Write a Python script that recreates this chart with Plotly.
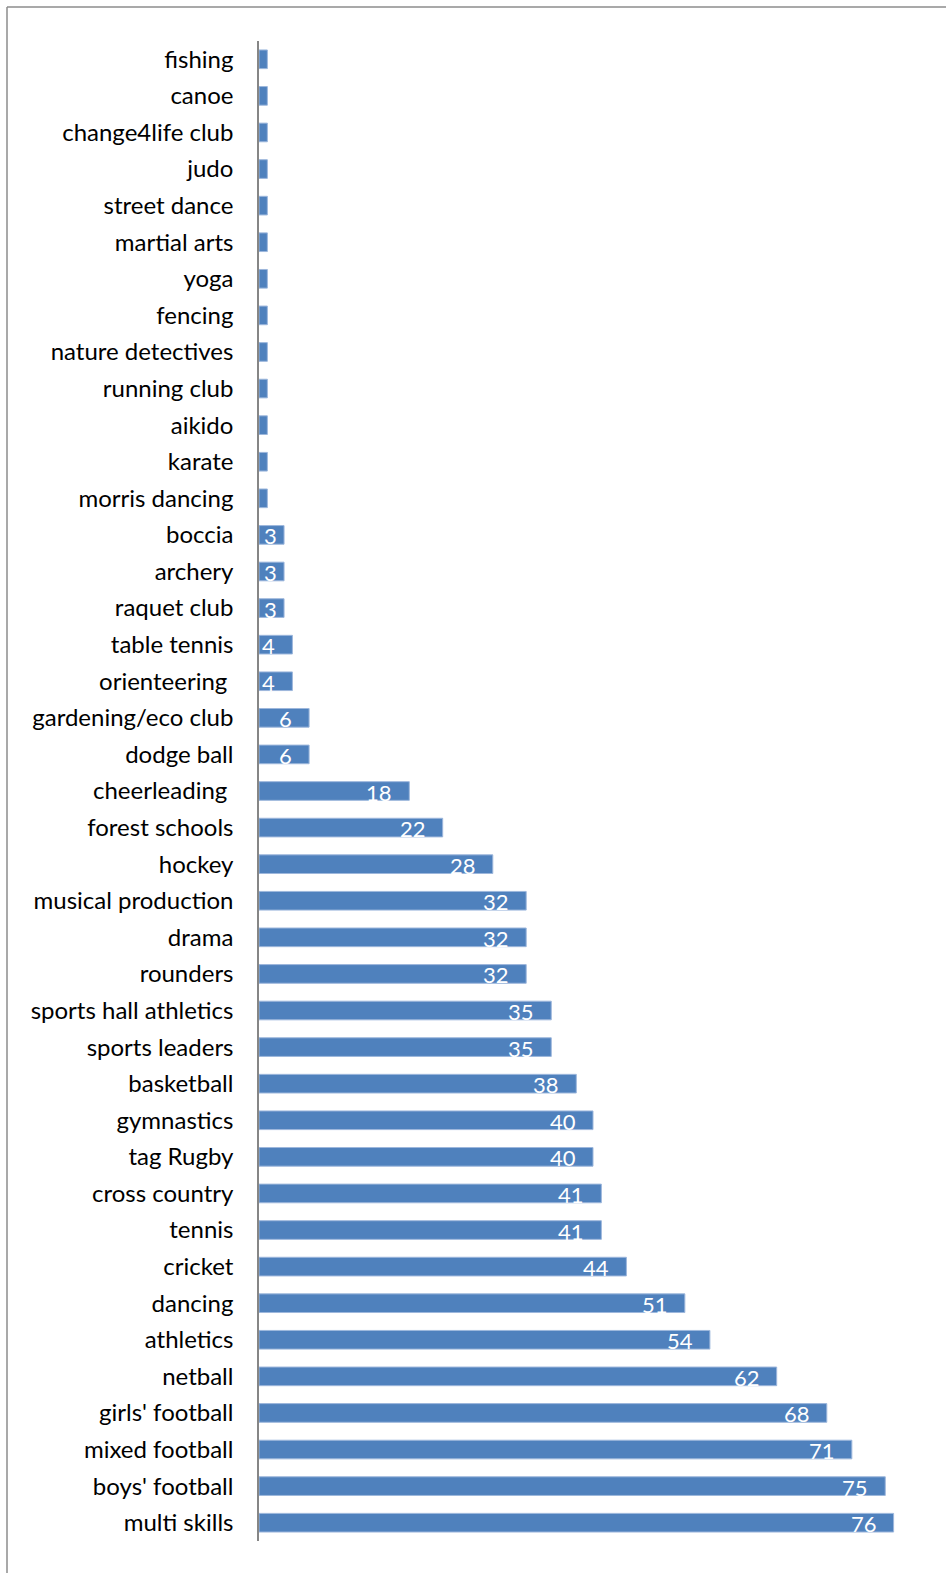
import plotly.graph_objects as go

# Clubs and activities, top to bottom, with the number of participants
activities = [
    "fishing", "canoe", "change4life club", "judo", "street dance",
    "martial arts", "yoga", "fencing", "nature detectives", "running club",
    "aikido", "karate", "morris dancing", "boccia", "archery",
    "raquet club", "table tennis", "orienteering ", "gardening/eco club", "dodge ball",
    "cheerleading ", "forest schools", "hockey", "musical production", "drama",
    "rounders", "sports hall athletics", "sports leaders", "basketball", "gymnastics",
    "tag Rugby", "cross country", "tennis", "cricket", "dancing",
    "athletics", "netball", "girls' football", "mixed football", "boys' football",
    "multi skills",
]
participants = [
    1, 1, 1, 1, 1,
    1, 1, 1, 1, 1,
    1, 1, 1, 3, 3,
    3, 4, 4, 6, 6,
    18, 22, 28, 32, 32,
    32, 35, 35, 38, 40,
    40, 41, 41, 44, 51,
    54, 62, 68, 71, 75,
    76,
]

BAR_BLUE = "#4F81BD"
AXIS_GREY = "#868686"
FONT = "Lato, Carlito, 'Open Sans', sans-serif"

L, R, T, B = 259, 19, 41, 32
W, H = 946, 1573
X_MAX = 80
pw, ph = W - L - R, H - T - B
px_per_unit = pw / X_MAX

fig = go.Figure()
fig.add_trace(go.Bar(
    x=participants,
    y=activities,
    orientation="h",
    marker=dict(color=BAR_BLUE, line=dict(color="#9DB7DC", width=1)),
    hoverinfo="x+y",
))

# Value labels at the inside end of each bar; short bars keep the label
# pinned inside their start, and bars too narrow for a digit stay unlabelled
DIGIT_W = 12.5
for name, value in zip(activities, participants):
    if value < 3:
        continue
    label = str(value)
    bar_px = value * px_per_unit
    text_w = DIGIT_W * len(label)
    shift = -15
    if bar_px + shift - text_w < 5:
        shift = 7 + text_w - bar_px
    fig.add_annotation(
        x=value, y=name, xref="x", yref="y",
        text=label, showarrow=False,
        xanchor="right", yanchor="middle",
        xshift=shift, yshift=-1,
        font=dict(family=FONT, size=22, color="white"),
    )

x_border = (7 - L) / pw
y_border = 1 + (T - 7) / ph

# Outer frame (only its top and left edges fall inside the page)
fig.add_shape(type="line", xref="paper", yref="paper",
              x0=x_border, x1=1.2, y0=y_border, y1=y_border,
              line=dict(color="#8C8C8C", width=1.5))
fig.add_shape(type="line", xref="paper", yref="paper",
              x0=x_border, x1=x_border, y0=-0.2, y1=y_border,
              line=dict(color="#8C8C8C", width=1.5))

fig.update_layout(
    width=W, height=H,
    margin=dict(l=L, r=R, t=T, b=B, pad=0),
    paper_bgcolor="white", plot_bgcolor="white",
    bargap=0.49,
    showlegend=False,
    font=dict(family=FONT, size=24, color="black"),
    xaxis=dict(range=[0, X_MAX], showticklabels=False, showgrid=False,
               zeroline=False, showline=False, ticks=""),
    yaxis=dict(autorange="reversed", showline=True, linecolor=AXIS_GREY,
               linewidth=1.5, ticks="", showgrid=False, ticklabelstandoff=19,
               tickfont=dict(family=FONT, size=24, color="black")),
)

fig.write_html("out.html")
